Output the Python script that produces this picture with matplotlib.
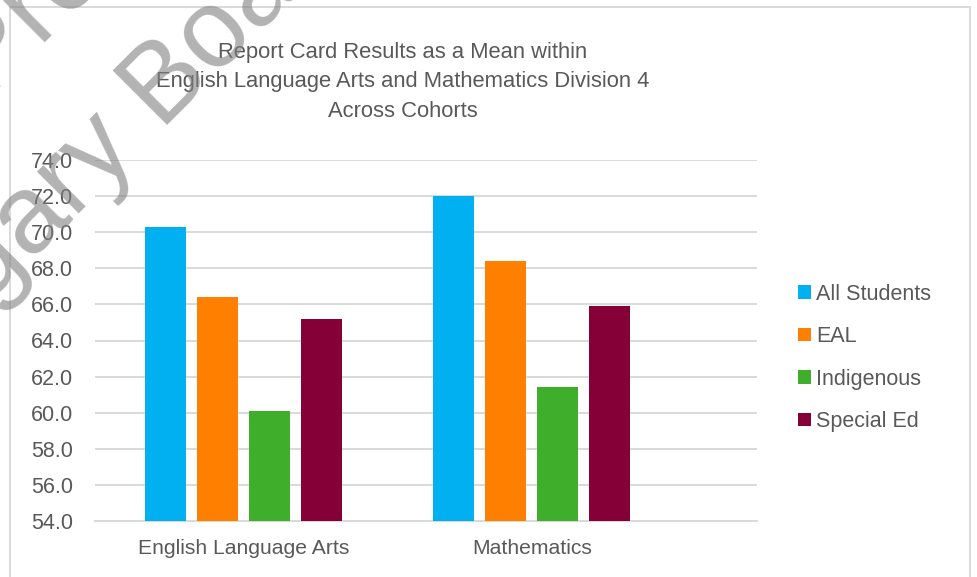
import matplotlib
matplotlib.use("Agg")
import matplotlib.pyplot as plt
from matplotlib.patches import Rectangle
import numpy as np

# données
matieres = ["English Language Arts", "Mathematics"]
cohortes = ["All Students", "EAL", "Indigenous", "Special Ed"]
all_students = [70.3, 72.0]
eal = [66.4, 68.4]
indigenous = [60.1, 61.4]
special_ed = [65.2, 65.9]
graduations = [54, 56, 58, 60, 62, 64, 66, 68, 70, 72, 74]

couleurs = ["#00B0F0", "#FF8000", "#3FAE2B", "#860038"]
gris_texte = "#595959"
gris_ligne = "#D9D9D9"

plt.rcParams["font.family"] = ["Liberation Sans", "DejaVu Sans"]

fig = plt.figure(figsize=(9.77, 5.77), dpi=100)
ax = fig.add_axes([95 / 977, 1 - 521 / 577, 662 / 977, 361 / 577])
ax.set_facecolor("none")

x = np.arange(len(matieres))
pas = 0.1805
largeur = 0.1423
series = [all_students, eal, indigenous, special_ed]
for i, (valeurs, nom, c) in enumerate(zip(series, cohortes, couleurs)):
    ax.bar(x + (i - 1.5) * pas, valeurs, largeur, color=c, label=nom, zorder=3)

ax.set_ylim(54, 74)
ax.set_xlim(-0.516, 1.782)
ax.set_yticks(graduations)
ax.set_yticklabels([f"{v:.1f}" for v in graduations])
ax.set_xticks(x)
ax.set_xticklabels(matieres)
ax.yaxis.grid(True, color=gris_ligne, lw=1.4, zorder=0)
ax.tick_params(axis="y", length=0, pad=16, labelsize=15.5, labelcolor=gris_texte)
ax.tick_params(axis="x", length=0, pad=13, labelsize=15.2, labelcolor=gris_texte)
for cote in ["top", "right", "left"]:
    ax.spines[cote].set_visible(False)
ax.spines["bottom"].set_color(gris_ligne)
ax.spines["bottom"].set_linewidth(1.4)

# titre
fig.text(403 / 977, 1 - 82 / 577,
         "Report Card Results as a Mean within\n"
         "English Language Arts and Mathematics Division 4\n"
         "Across Cohorts",
         ha="center", va="center", fontsize=15.8, color=gris_texte, linespacing=1.55)

# légende
ax.legend(loc="center left", bbox_to_anchor=(798 / 977, 1 - 358 / 577),
          bbox_transform=fig.transFigure, frameon=False, fontsize=15.5,
          handlelength=0.59, handleheight=0.59, handletextpad=0.25,
          labelspacing=1.0, borderpad=0, borderaxespad=0, labelcolor=gris_texte)

# cadre du graphique
fig.patches.append(Rectangle((10 / 977, -0.1), 960 / 977, 1 - 7 / 577 + 0.1,
                             transform=fig.transFigure, fill=False,
                             ec=gris_ligne, lw=1.4))

# filigrane
fig.text(-12 / 977, 1 - 100 / 577, "Property of the", rotation=45,
         rotation_mode="anchor", ha="left", va="baseline", fontsize=80,
         family="Liberation Sans", color="#808080", alpha=0.6, zorder=10)
fig.text(-131 / 977, 1 - 424 / 577, "Calgary Board of Education", rotation=45,
         rotation_mode="anchor", ha="left", va="baseline", fontsize=80,
         family="Liberation Sans", color="#808080", alpha=0.6, zorder=10)

fig.savefig("out.png", dpi=100)
